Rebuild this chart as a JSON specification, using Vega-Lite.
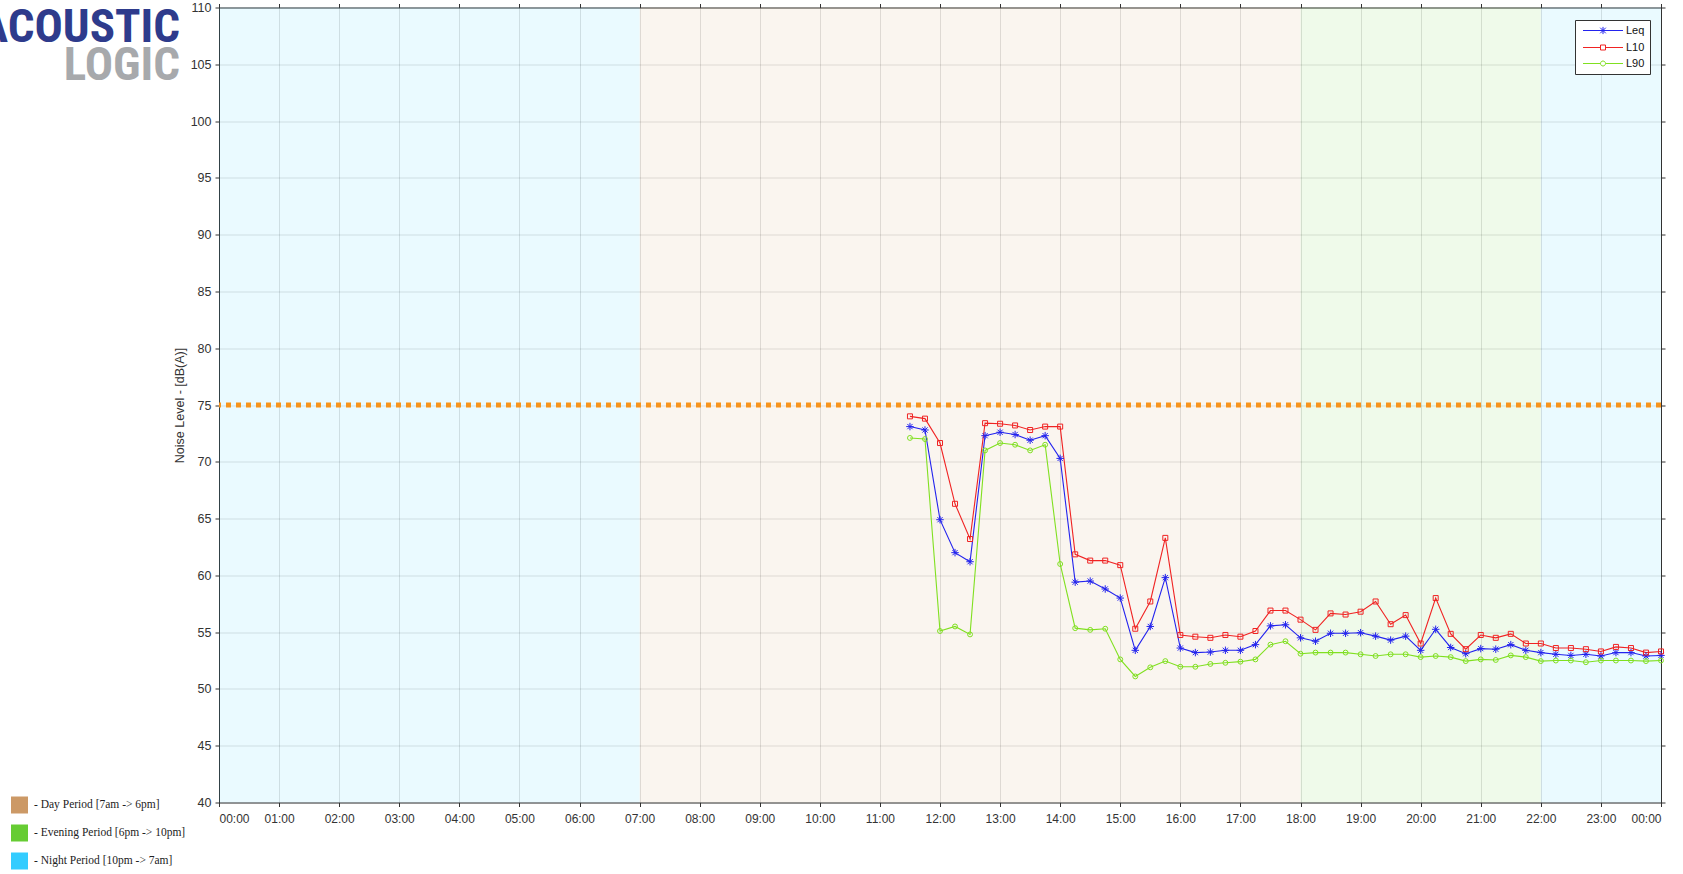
{
  "$schema": "https://vega.github.io/schema/vega-lite/v6.json",
  "width": 1442,
  "height": 795,
  "autosize": {"type": "none"},
  "padding": {"left": 219, "top": 7.5, "right": 22, "bottom": 71.5},
  "background": "white",
  "config": {
    "view": {"stroke": "#3a3a3a", "strokeWidth": 1},
    "axis": {"labelFont": "Liberation Sans", "labelFontSize": 12, "labelColor": "#333", "titleFont": "Liberation Sans", "titleFontSize": 12.5, "titleFontWeight": "normal", "titleColor": "#333", "domain": false, "tickColor": "#333", "tickSize": 4, "gridColor": "#000", "gridOpacity": 0.12}
  },
  "title": {"text": "ACOUSTIC", "subtitle": "LOGIC", "anchor": "start", "align": "right", "frame": "group", "orient": "top", "dx": -39, "dy": 88, "offset": 0, "font": "'Roboto Condensed', 'Open Sans Condensed', 'Noto Sans Condensed', 'DejaVu Sans Condensed'", "fontSize": 47, "fontWeight": "bold", "color": "#2e3b8c", "subtitleFont": "'Roboto Condensed', 'Open Sans Condensed', 'Noto Sans Condensed', 'DejaVu Sans Condensed'", "subtitleFontSize": 47, "subtitleFontWeight": "bold", "subtitleColor": "#a7a9ac", "subtitlePadding": -9},
  "datasets": {
    "bands": [
      {"start": 0, "end": 7, "period": "Night"},
      {"start": 7, "end": 18, "period": "Day"},
      {"start": 18, "end": 22, "period": "Evening"},
      {"start": 22, "end": 24, "period": "Night"}
    ],
    "levels": [
      {"h": 11.5, "Leq": 73.1, "L10": 74.0, "L90": 72.1},
      {"h": 11.75, "Leq": 72.8, "L10": 73.8, "L90": 72.0},
      {"h": 12.0, "Leq": 64.9, "L10": 71.65, "L90": 55.1},
      {"h": 12.25, "Leq": 62.0, "L10": 66.3, "L90": 55.5},
      {"h": 12.5, "Leq": 61.2, "L10": 63.2, "L90": 54.8},
      {"h": 12.75, "Leq": 72.3, "L10": 73.4, "L90": 71.0},
      {"h": 13.0, "Leq": 72.6, "L10": 73.35, "L90": 71.65},
      {"h": 13.25, "Leq": 72.4, "L10": 73.2, "L90": 71.5},
      {"h": 13.5, "Leq": 71.9, "L10": 72.8, "L90": 71.0},
      {"h": 13.75, "Leq": 72.3, "L10": 73.1, "L90": 71.5},
      {"h": 14.0, "Leq": 70.3, "L10": 73.1, "L90": 61.0},
      {"h": 14.25, "Leq": 59.4, "L10": 61.85, "L90": 55.35},
      {"h": 14.5, "Leq": 59.5, "L10": 61.3, "L90": 55.2},
      {"h": 14.75, "Leq": 58.8, "L10": 61.3, "L90": 55.3},
      {"h": 15.0, "Leq": 58.0, "L10": 60.9, "L90": 52.6},
      {"h": 15.25, "Leq": 53.4, "L10": 55.3, "L90": 51.1},
      {"h": 15.5, "Leq": 55.5, "L10": 57.7, "L90": 51.9},
      {"h": 15.75, "Leq": 59.8, "L10": 63.3, "L90": 52.45},
      {"h": 16.0, "Leq": 53.6, "L10": 54.75, "L90": 51.95},
      {"h": 16.25, "Leq": 53.2, "L10": 54.6, "L90": 51.95},
      {"h": 16.5, "Leq": 53.25, "L10": 54.5, "L90": 52.2},
      {"h": 16.75, "Leq": 53.4, "L10": 54.75, "L90": 52.3},
      {"h": 17.0, "Leq": 53.4, "L10": 54.6, "L90": 52.4},
      {"h": 17.25, "Leq": 53.9, "L10": 55.1, "L90": 52.6},
      {"h": 17.5, "Leq": 55.55, "L10": 56.9, "L90": 53.9},
      {"h": 17.75, "Leq": 55.65, "L10": 56.9, "L90": 54.2},
      {"h": 18.0, "Leq": 54.5, "L10": 56.1, "L90": 53.1},
      {"h": 18.25, "Leq": 54.2, "L10": 55.2, "L90": 53.2},
      {"h": 18.5, "Leq": 54.9, "L10": 56.65, "L90": 53.2},
      {"h": 18.75, "Leq": 54.9, "L10": 56.55, "L90": 53.2},
      {"h": 19.0, "Leq": 54.95, "L10": 56.8, "L90": 53.05},
      {"h": 19.25, "Leq": 54.65, "L10": 57.7, "L90": 52.9},
      {"h": 19.5, "Leq": 54.3, "L10": 55.7, "L90": 53.05},
      {"h": 19.75, "Leq": 54.65, "L10": 56.5, "L90": 53.05},
      {"h": 20.0, "Leq": 53.4, "L10": 54.0, "L90": 52.8},
      {"h": 20.25, "Leq": 55.25, "L10": 58.0, "L90": 52.9},
      {"h": 20.5, "Leq": 53.65, "L10": 54.85, "L90": 52.8},
      {"h": 20.75, "Leq": 53.1, "L10": 53.5, "L90": 52.45},
      {"h": 21.0, "Leq": 53.55, "L10": 54.75, "L90": 52.6},
      {"h": 21.25, "Leq": 53.5, "L10": 54.5, "L90": 52.55},
      {"h": 21.5, "Leq": 53.9, "L10": 54.85, "L90": 52.95},
      {"h": 21.75, "Leq": 53.4, "L10": 54.0, "L90": 52.8},
      {"h": 22.0, "Leq": 53.2, "L10": 54.0, "L90": 52.45},
      {"h": 22.25, "Leq": 53.05, "L10": 53.6, "L90": 52.5},
      {"h": 22.5, "Leq": 52.95, "L10": 53.6, "L90": 52.5},
      {"h": 22.75, "Leq": 53.05, "L10": 53.5, "L90": 52.35},
      {"h": 23.0, "Leq": 52.9, "L10": 53.3, "L90": 52.5},
      {"h": 23.25, "Leq": 53.2, "L10": 53.7, "L90": 52.5},
      {"h": 23.5, "Leq": 53.2, "L10": 53.6, "L90": 52.5},
      {"h": 23.75, "Leq": 52.9, "L10": 53.2, "L90": 52.45},
      {"h": 24.0, "Leq": 52.95, "L10": 53.3, "L90": 52.5}
    ]
  },
  "layer": [
    {
      "data": {"name": "bands"},
      "mark": {"type": "rect", "opacity": 0.1},
      "encoding": {
        "x": {"field": "start", "type": "quantitative", "scale": {"domain": [0, 24], "nice": false, "zero": false},
              "axis": {"orient": "top", "labels": false, "grid": false, "ticks": true, "values": [0,1,2,3,4,5,6,7,8,9,10,11,12,13,14,15,16,17,18,19,20,21,22,23,24], "title": null}},
        "x2": {"field": "end"},
        "fill": {"field": "period", "type": "nominal",
                 "scale": {"domain": ["Day", "Evening", "Night"], "range": ["#cc9966", "#66cc33", "#33ccff"]},
                 "legend": {"title": null, "orient": "none", "legendX": -208, "legendY": 789, "symbolType": "square", "symbolSize": 289, "symbolStrokeWidth": 0, "symbolOpacity": 1, "labelFont": "Liberation Serif", "labelFontSize": 11.5, "labelColor": "#222", "labelOffset": 6, "rowPadding": 11, "padding": 0, "labelLimit": 400,
                            "labelExpr": "datum.value == 'Day' ? '- Day Period [7am -> 6pm]' : datum.value == 'Evening' ? '- Evening Period [6pm -> 10pm]' : '- Night Period [10pm -> 7am]'",
                            "encode": {"symbols": {"update": {"opacity": {"value": 1}}}}}}
      }
    },
    {
      "data": {"values": [{"limit": 75}]},
      "mark": {"type": "rule", "stroke": "#f7941d", "strokeWidth": 5, "strokeDash": [5, 5]},
      "encoding": {
        "y": {"field": "limit", "type": "quantitative", "scale": {"domain": [40, 110], "nice": false, "zero": false},
              "axis": {"orient": "right", "labels": false, "grid": false, "values": [40,45,50,55,60,65,70,75,80,85,90,95,100,105,110], "title": null}}
      }
    },
    {
      "data": {"name": "levels"},
      "transform": [{"fold": ["Leq", "L10", "L90"], "as": ["key", "value"]}],
      "mark": {"type": "line", "strokeWidth": 1.1},
      "encoding": {
        "x": {"field": "h", "type": "quantitative",
              "axis": {"orient": "bottom", "values": [0,1,2,3,4,5,6,7,8,9,10,11,12,13,14,15,16,17,18,19,20,21,22,23,24], "grid": true, "title": null, "labelPadding": 7,
                       "labelExpr": "datum.value == 24 ? '00:00' : (datum.value < 10 ? '0' : '') + datum.value + ':00'"}},
        "y": {"field": "value", "type": "quantitative",
              "axis": {"orient": "left", "values": [40,45,50,55,60,65,70,75,80,85,90,95,100,105,110], "grid": true, "title": "Noise Level - [dB(A)]", "titlePadding": 4, "labelPadding": 4, "labelFontSize": 12.5}},
        "color": {"field": "key", "type": "nominal", "scale": {"domain": ["Leq", "L10", "L90"], "range": ["#2323ee", "#f02323", "#80e020"]},
                  "legend": {"title": null, "orient": "none", "legendX": 1356, "legendY": 12.5, "fillColor": "white", "strokeColor": "#333", "padding": 5, "symbolSize": 100, "symbolOffset": 17.5, "symbolStrokeWidth": 1, "symbolOpacity": 1, "labelFont": "Liberation Sans", "labelFontSize": 11, "labelColor": "#111", "labelOffset": 17.5, "rowPadding": 4,
                             "labelExpr": "datum.label + '    '",
                             "encode": {"symbols": {"update": {"opacity": {"value": 1}, "strokeDash": {"value": []},
                               "shape": {"signal": "datum.value === 'Leq' ? 'M-4,0H4M-0.56,-0.56L0.56,0.56M-0.56,0.56L0.56,-0.56M0,-0.72V0.72' : datum.value === 'L10' ? 'M-4,0H-0.5M0.5,0H4M-0.5,-0.5H0.5V0.5H-0.5Z' : 'M-4,0H-0.5M0.5,0H4M-0.5,0A0.5,0.5,0,1,0,0.5,0A0.5,0.5,0,1,0,-0.5,0'"}}}}}}
      }
    },
    {
      "data": {"name": "levels"},
      "transform": [{"fold": ["Leq"], "as": ["key", "value"]}],
      "mark": {"type": "point", "filled": false, "strokeWidth": 1, "opacity": 1, "shape": "M-1,0H1M0,-1V1M-0.7,-0.7L0.7,0.7M-0.7,0.7L0.7,-0.7", "size": 56, "stroke": "#2323ee"},
      "encoding": {
        "x": {"field": "h", "type": "quantitative", "axis": null},
        "y": {"field": "value", "type": "quantitative", "axis": null}
      }
    },
    {
      "data": {"name": "levels"},
      "transform": [{"fold": ["L10"], "as": ["key", "value"]}],
      "mark": {"type": "point", "filled": false, "strokeWidth": 1, "opacity": 1, "shape": "square", "size": 25, "stroke": "#f02323"},
      "encoding": {
        "x": {"field": "h", "type": "quantitative", "axis": null},
        "y": {"field": "value", "type": "quantitative", "axis": null}
      }
    },
    {
      "data": {"name": "levels"},
      "transform": [{"fold": ["L90"], "as": ["key", "value"]}],
      "mark": {"type": "point", "filled": false, "strokeWidth": 1, "opacity": 1, "shape": "circle", "size": 24, "stroke": "#80e020"},
      "encoding": {
        "x": {"field": "h", "type": "quantitative", "axis": null},
        "y": {"field": "value", "type": "quantitative", "axis": null}
      }
    }
  ],
  "resolve": {"axis": {"x": "independent", "y": "independent"}}
}
